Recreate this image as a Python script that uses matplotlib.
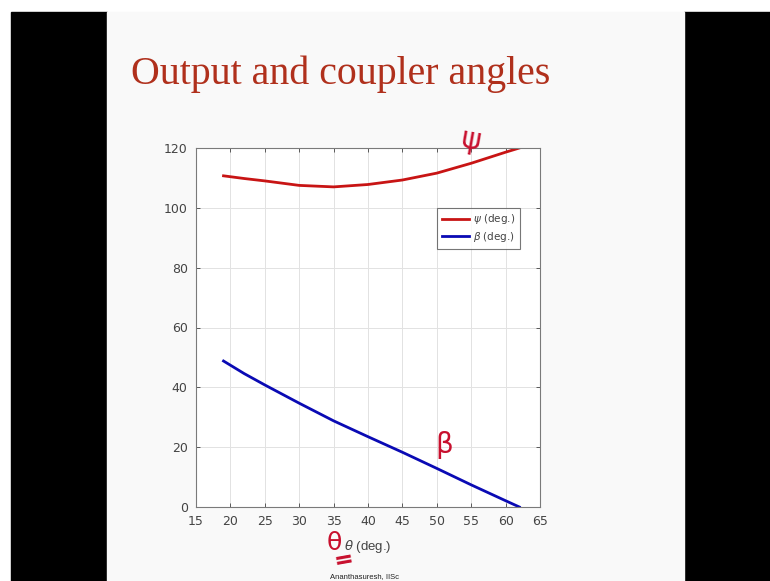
import matplotlib.pyplot as plt
from matplotlib.patches import Rectangle

# crank angle theta (deg.)
theta = [19, 22, 25, 30, 35, 40, 45, 50, 55, 60, 62]
# output angle psi (deg.)
psi = [110.7, 109.8, 109.0, 107.5, 107.0, 107.8, 109.3, 111.6, 114.9, 118.6, 120.0]
# coupler angle beta (deg.)
beta = [48.8, 44.6, 40.8, 34.7, 28.8, 23.5, 18.3, 12.9, 7.4, 2.1, 0.0]

xticks = list(range(15, 66, 5))
yticks = list(range(0, 121, 20))

W, H = 770, 581
fig = plt.figure(figsize=(W / 100, H / 100), dpi=100)
fig.patch.set_facecolor('white')

# slide area with black side bars (kept behind the axes)
for x0, x1, c in [(11, 107, 'black'), (684, W, 'black'), (107, 684, '#f9f9f9')]:
    fig.patches.append(Rectangle((x0 / W, 0), (x1 - x0) / W, (H - 12) / H,
                                 transform=fig.transFigure, color=c, zorder=-5))

fig.text(131 / W, 1 - 74 / H, 'Output and coupler angles', ha='left', va='center',
         fontsize=28.7, color='#b0301c', family='Liberation Serif')

ax = fig.add_axes([196 / W, 1 - 507 / H, (540 - 196) / W, (507 - 148) / H])
ax.plot(theta, psi, color='#c81414', linewidth=2.0, label=r'$\psi$ (deg.)')
ax.plot(theta, beta, color='#0a0ab4', linewidth=2.0, label=r'$\beta$ (deg.)')

ax.set_xlim(15, 65)
ax.set_ylim(0, 120)
ax.set_xticks(xticks)
ax.set_yticks(yticks)
ax.tick_params(direction='in', top=True, right=True, length=3, width=0.6,
               labelsize=9, colors='#444444', pad=6)
for lab in ax.get_xticklabels() + ax.get_yticklabels():
    lab.set_family('Liberation Sans Narrow')
for s in ax.spines.values():
    s.set_color('#7a7a7a')
    s.set_linewidth(0.8)
ax.grid(True, color='#e2e2e2', linewidth=0.7)
ax.set_axisbelow(True)
ax.set_facecolor('white')
ax.set_xlabel(r'$\theta$ (deg.)', fontsize=9.5, color='#444444',
              family='Liberation Sans', labelpad=7)

leg = ax.legend(loc='upper right', bbox_to_anchor=(0.956, 0.848), fontsize=7.5,
                handlelength=2.6, frameon=True, fancybox=False,
                borderpad=0.45, labelspacing=0.35, handletextpad=0.4)
leg.get_frame().set_edgecolor('#555555')
leg.get_frame().set_linewidth(0.8)
for t in leg.get_texts():
    t.set_color('#444444')

# handwritten marks on the slide
ink = '#c8102e'
fig.text(471 / W, 1 - 140 / H, 'ψ', fontsize=22, color=ink, ha='center', va='center',
         rotation=-10)
fig.text(444 / W, 1 - 445 / H, 'β', fontsize=20, color=ink, ha='center', va='center')
fig.text(334 / W, 1 - 543 / H, 'θ', fontsize=18, color=ink, ha='center', va='center')
fig.text(344 / W, 1 - 560 / H, '=', fontsize=17, color=ink, ha='center', va='center',
         fontweight='bold', rotation=10)

fig.text(364 / W, 0.5 / H, 'Ananthasuresh, IISc', fontsize=5.5, color='#222222',
         ha='center', va='bottom', family='Liberation Sans')

fig.savefig('out.png', dpi=100, facecolor=fig.get_facecolor())
